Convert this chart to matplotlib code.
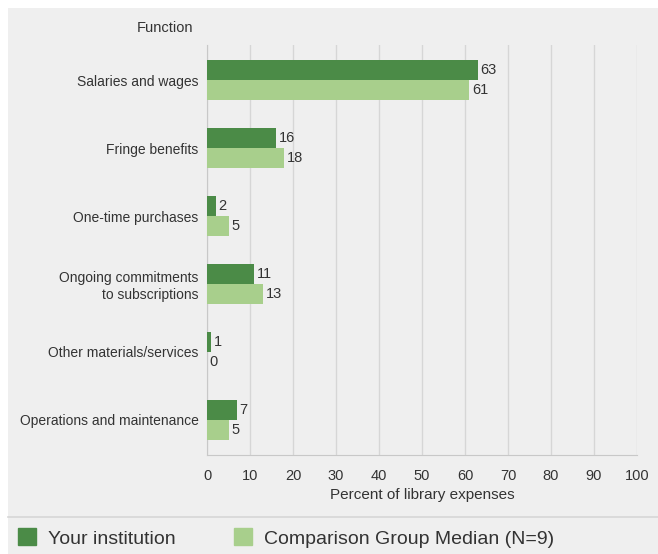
import matplotlib.pyplot as plt
import matplotlib.patches as mpatches
import numpy as np

plt.rcParams['font.family'] = ['Liberation Sans', 'DejaVu Sans']

categories = ["Salaries and wages", "Fringe benefits", "One-time purchases",
              "Ongoing commitments\nto subscriptions", "Other materials/services",
              "Operations and maintenance"]
yours = [63, 16, 2, 11, 1, 7]
median = [61, 18, 5, 13, 0, 5]
series_names = ["Your institution", "Comparison Group Median (N=9)"]
xticks = [0, 10, 20, 30, 40, 50, 60, 70, 80, 90, 100]

dark = "#4b8b47"
light = "#a8cf8c"
bg = "#efefef"
txt = "#333333"

fig = plt.figure(figsize=(6.58, 5.54), dpi=100, facecolor="white")
# gray panel behind everything
fig.patches.append(mpatches.Rectangle((8/658, 0), 1, 1 - 8/554, transform=fig.transFigure,
                                      facecolor=bg, edgecolor="none", zorder=-10))
# separator above legend
fig.lines.append(plt.Line2D([8/658, 1], [1 - 517/554, 1 - 517/554], transform=fig.transFigure,
                            color="#d6d6d6", lw=1.2))

ax = fig.add_axes([207/658, 1 - 455/554, 430/658, 410/554])
ax.set_facecolor(bg)

y = np.arange(len(categories))
h = 0.29
b1 = ax.barh(y - h/2, yours, height=h, color=dark, zorder=3)
b2 = ax.barh(y + h/2, median, height=h, color=light, zorder=3)
for bars, vals in ((b1, yours), (b2, median)):
    for rect, v in zip(bars, vals):
        ax.text(v + 0.6, rect.get_y() + rect.get_height()/2, str(v), va="center", ha="left",
                fontsize=10.5, color=txt)

ax.set_ylim(len(categories) - 1 + 0.515, -0.515)
ax.set_xlim(0, 100)
ax.set_yticks(y)
ax.set_yticklabels(categories, fontsize=10, color=txt, ha="right", multialignment="right")
ax.set_xticks(xticks)
ax.set_xticklabels([str(t) for t in xticks], fontsize=10.5, color=txt)
ax.tick_params(axis="both", length=0, pad=6)
ax.tick_params(axis="x", pad=10)
ax.grid(axis="x", color="#d6d6d6", lw=1, zorder=0)
for s in ["top", "right"]:
    ax.spines[s].set_visible(False)
ax.spines["left"].set_color("#c8c8c8")
ax.spines["bottom"].set_color("#c8c8c8")
ax.set_xlabel("Percent of library expenses", fontsize=11, color=txt, labelpad=4)

fig.text(165/658, 1 - 28/554, "Function", fontsize=10.5, color=txt, ha="center", va="center")

handles = [mpatches.Patch(color=dark), mpatches.Patch(color=light)]
fig.legend(handles, series_names, loc="center left", bbox_to_anchor=(0/658, 1 - 538/554),
           ncol=2, frameon=False, fontsize=14, handlelength=0.95, handleheight=0.95,
           handletextpad=0.6, columnspacing=3.0, labelcolor=txt)

fig.savefig("out.png", dpi=100, facecolor="white")
